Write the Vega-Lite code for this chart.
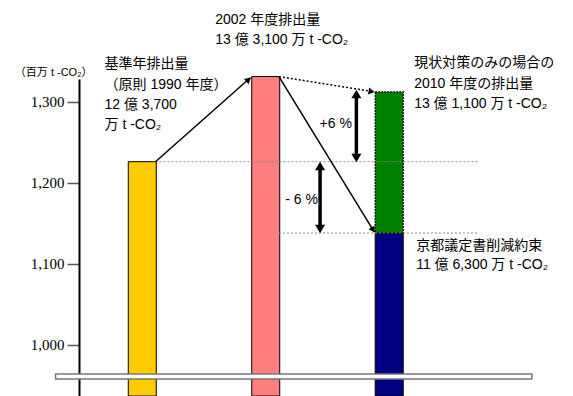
{
  "$schema": "https://vega.github.io/schema/vega-lite/v6.json",
  "width": 494,
  "height": 317,
  "autosize": "none",
  "padding": {"left": 79, "top": 79, "right": 0, "bottom": 0},
  "background": "white",
  "config": {
    "view": {"stroke": null},
    "axis": {"grid": false},
    "text": {"font": "Liberation Sans, Noto Sans CJK JP", "fontSize": 14, "color": "black"}
  },
  "datasets": {
    "bars": [
      {"year": "1990", "pos": 1, "top": 1226, "base": 937},
      {"year": "2002", "pos": 2, "top": 1331, "base": 937},
      {"year": "2010k", "pos": 3, "top": 1138, "base": 937}
    ],
    "green": [
      {"year": "2010", "pos": 3, "top": 1312, "base": 1138}
    ],
    "refs": [
      {"x": 1.107, "x2": 3.718, "y": 1226},
      {"x": 2.107, "x2": 3.718, "y": 1138}
    ],
    "solid": [
      {"x": 1.107, "y": 1226, "x2": 1.875, "y2": 1329.5},
      {"x": 2.107, "y": 1331, "x2": 2.880, "y2": 1139}
    ],
    "dotted": [
      {"x": 2.107, "y": 1331, "x2": 2.870, "y2": 1312.4}
    ],
    "thick": [
      {"x": 2.734, "y": 1309.5, "y2": 1230.6},
      {"x": 2.440, "y": 1220.7, "y2": 1143}
    ],
    "heads": [
      {"x": 1.861, "y": 1327.3, "angle": 49, "kind": "thin"},
      {"x": 2.870, "y": 1141.7, "angle": 148, "kind": "thin"},
      {"x": 2.857, "y": 1312.6, "angle": 99, "kind": "thin"},
      {"x": 2.734, "y": 1309.5, "angle": 0, "kind": "thick"},
      {"x": 2.734, "y": 1230.6, "angle": 180, "kind": "thick"},
      {"x": 2.440, "y": 1220.7, "angle": 0, "kind": "thick"},
      {"x": 2.440, "y": 1143, "angle": 180, "kind": "thick"}
    ],
    "labels": [
      {"t": "基準年排出量", "x": 0.694, "y": 1346.5},
      {"t": "（原則 1990 年度）", "x": 0.694, "y": 1320.6},
      {"t": "12 億 3,700", "x": 0.694, "y": 1295.9},
      {"t": "万 t -CO₂", "x": 0.694, "y": 1271.3},
      {"t": "2002 年度排出量", "x": 1.591, "y": 1400.8},
      {"t": "13 億 3,100 万 t -CO₂", "x": 1.591, "y": 1376.1},
      {"t": "現状対策のみの場合の", "x": 3.202, "y": 1347.7},
      {"t": "2010 年度の排出量", "x": 3.202, "y": 1321.8},
      {"t": "13 億 1,100 万 t -CO₂", "x": 3.202, "y": 1297.2},
      {"t": "京都議定書削減約束", "x": 3.218, "y": 1122},
      {"t": "11 億 6,300 万 t -CO₂", "x": 3.218, "y": 1098.6}
    ],
    "pct": [
      {"t": "+6 %", "x": 2.567, "y": 1272.5},
      {"t": "- 6 %", "x": 2.290, "y": 1178.7}
    ],
    "unit": [
      {"t": "（百万 t -CO₂）", "x": 0.282, "y": 1335.4}
    ],
    "brk": [
      {"x": 0.298, "x2": 4.155, "y": 958, "y2": 964}
    ]
  },
  "encoding": {
    "x": {"type": "quantitative", "scale": {"domain": [0.528, 4.448], "nice": false, "zero": false}, "axis": null},
    "y": {"type": "quantitative", "scale": {"domain": [937, 1328], "nice": false, "zero": false}}
  },
  "layer": [
    {
      "data": {"name": "bars"},
      "mark": {"type": "bar", "size": 28, "stroke": "black", "strokeWidth": 1},
      "encoding": {
        "x": {"field": "pos", "type": "quantitative"},
        "y": {"field": "top", "type": "quantitative",
              "axis": {"values": [1000, 1100, 1200, 1300], "format": ",d", "title": null,
                       "labelFont": "Liberation Serif", "labelFontSize": 15, "labelColor": "black",
                       "tickSize": 12, "tickColor": "#555", "tickWidth": 1.5,
                       "domainColor": "black", "domainWidth": 2, "labelPadding": 3}},
        "y2": {"field": "base"},
        "color": {"field": "year", "type": "nominal", "legend": null,
                  "scale": {"domain": ["1990", "2002", "2010k"], "range": ["#FFCC00", "#FF7F7F", "#000080"]}}
      }
    },
    {
      "data": {"name": "green"},
      "mark": {"type": "bar", "size": 28, "fill": "#008000", "stroke": "black", "strokeWidth": 1.2, "strokeDash": [2, 1]},
      "encoding": {
        "x": {"field": "pos", "type": "quantitative"},
        "y": {"field": "top", "type": "quantitative"},
        "y2": {"field": "base"}
      }
    },
    {
      "data": {"name": "refs"},
      "mark": {"type": "rule", "color": "#888", "strokeWidth": 1, "strokeDash": [2, 2]},
      "encoding": {
        "x": {"field": "x", "type": "quantitative"},
        "x2": {"field": "x2"},
        "y": {"field": "y", "type": "quantitative"}
      }
    },
    {
      "data": {"name": "solid"},
      "mark": {"type": "rule", "color": "black", "strokeWidth": 1.5},
      "encoding": {
        "x": {"field": "x", "type": "quantitative"},
        "x2": {"field": "x2"},
        "y": {"field": "y", "type": "quantitative"},
        "y2": {"field": "y2"}
      }
    },
    {
      "data": {"name": "dotted"},
      "mark": {"type": "rule", "color": "black", "strokeWidth": 1.5, "strokeDash": [2, 2]},
      "encoding": {
        "x": {"field": "x", "type": "quantitative"},
        "x2": {"field": "x2"},
        "y": {"field": "y", "type": "quantitative"},
        "y2": {"field": "y2"}
      }
    },
    {
      "data": {"name": "thick"},
      "mark": {"type": "rule", "color": "black", "strokeWidth": 3.5},
      "encoding": {
        "x": {"field": "x", "type": "quantitative"},
        "y": {"field": "y", "type": "quantitative"},
        "y2": {"field": "y2"}
      }
    },
    {
      "data": {"name": "heads"},
      "mark": {"type": "point", "shape": "triangle-up", "filled": true, "color": "black", "opacity": 1},
      "encoding": {
        "x": {"field": "x", "type": "quantitative"},
        "y": {"field": "y", "type": "quantitative"},
        "angle": {"field": "angle", "type": "quantitative", "scale": null},
        "size": {"field": "kind", "type": "nominal", "legend": null,
                 "scale": {"domain": ["thin", "thick"], "range": [49, 100]}}
      }
    },
    {
      "data": {"name": "labels"},
      "mark": {"type": "text", "align": "left", "baseline": "middle"},
      "encoding": {
        "x": {"field": "x", "type": "quantitative"},
        "y": {"field": "y", "type": "quantitative"},
        "text": {"field": "t"}
      }
    },
    {
      "data": {"name": "pct"},
      "mark": {"type": "text", "align": "center", "baseline": "middle"},
      "encoding": {
        "x": {"field": "x", "type": "quantitative"},
        "y": {"field": "y", "type": "quantitative"},
        "text": {"field": "t"}
      }
    },
    {
      "data": {"name": "unit"},
      "mark": {"type": "text", "align": "center", "baseline": "middle", "fontSize": 11},
      "encoding": {
        "x": {"field": "x", "type": "quantitative"},
        "y": {"field": "y", "type": "quantitative"},
        "text": {"field": "t"}
      }
    },
    {
      "data": {"name": "brk"},
      "mark": {"type": "rect", "fill": "white", "stroke": "#777", "strokeWidth": 1.5},
      "encoding": {
        "x": {"field": "x", "type": "quantitative"},
        "x2": {"field": "x2"},
        "y": {"field": "y", "type": "quantitative"},
        "y2": {"field": "y2"}
      }
    }
  ]
}
